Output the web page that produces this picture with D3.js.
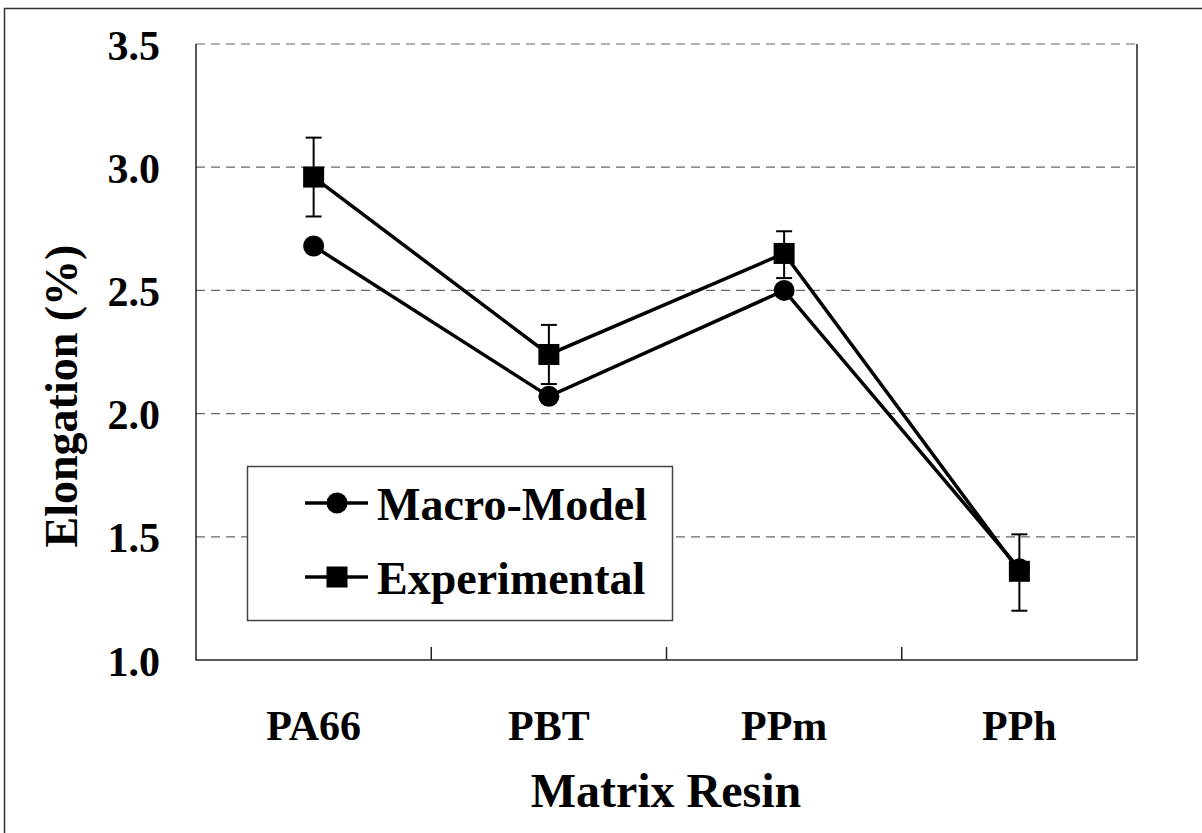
<!DOCTYPE html>
<html>
<head>
<meta charset="utf-8">
<script src="https://cdn.jsdelivr.net/npm/d3@7"></script>
<style>
  html, body { margin: 0; padding: 0; background: #fff; }
  svg { display: block; }
  text { font-family: "Liberation Serif", "Times New Roman", serif; font-weight: bold; fill: #000; }
</style>
</head>
<body>
<svg id="chart" width="1202" height="833"></svg>
<script>
// Matrix resins on the x axis
const categories = ["PA66", "PBT", "PPm", "PPh"];
// Elongation (%) predicted by the macro-model
const macroModel = [2.68, 2.07, 2.50, 1.37];
// Measured elongation (%) with error range
const experimental = [2.96, 2.24, 2.65, 1.36];
const expLow  = [2.80, 2.12, 2.55, 1.20];
const expHigh = [3.12, 2.36, 2.74, 1.51];
// Y axis ticks
const yTicks = [1.0, 1.5, 2.0, 2.5, 3.0, 3.5];
const seriesNames = ["Macro-Model", "Experimental"];

const svg = d3.select("#chart");
const plot = { left: 196, right: 1137, top: 44, bottom: 660 };

// Outer chart frame
svg.append("rect")
  .attr("x", 4.5).attr("y", 8.5)
  .attr("width", 1200).attr("height", 830)
  .attr("fill", "none").attr("stroke", "#333").attr("stroke-width", 1.5);

const x = d3.scaleBand().domain(categories).range([plot.left, plot.right]).padding(0);
const y = d3.scaleLinear().domain([1.0, 3.5]).range([plot.bottom, plot.top]);
const cx = d => x(d) + x.bandwidth() / 2;

// Dashed horizontal gridlines
svg.append("g")
  .selectAll("line")
  .data(yTicks.filter(t => t > 1.0))
  .join("line")
  .attr("x1", plot.left).attr("x2", plot.right)
  .attr("y1", d => y(d)).attr("y2", d => y(d))
  .attr("stroke", "#666").attr("stroke-width", 1.2)
  .attr("stroke-dasharray", "9,6");

// Plot frame: left, bottom, right
svg.append("path")
  .attr("d", `M${plot.left},${plot.top}V${plot.bottom}H${plot.right}V${plot.top}`)
  .attr("fill", "none").attr("stroke", "#222").attr("stroke-width", 1.5);

// Category divider ticks on the x axis (pointing inward)
const xAxis = d3.axisBottom(x).tickSize(0).tickFormat("");
svg.append("g")
  .selectAll("line")
  .data(categories.slice(1))
  .join("line")
  .attr("x1", d => x(d)).attr("x2", d => x(d))
  .attr("y1", plot.bottom).attr("y2", plot.bottom - 13)
  .attr("stroke", "#222").attr("stroke-width", 1.5);

// Y tick labels
const yAxis = d3.axisLeft(y).tickValues(yTicks).tickSize(0).tickPadding(36)
  .tickFormat(d3.format(".1f"));
const gy = svg.append("g").attr("transform", `translate(${plot.left},0)`).call(yAxis);
gy.select(".domain").remove();
gy.selectAll("text")
  .attr("font-family", "Liberation Serif, Times New Roman, serif")
  .attr("font-weight", "bold").attr("font-size", 42).attr("fill", "#000")
  .attr("dy", "0.36em");

// Category labels
const gx = svg.append("g").attr("transform", `translate(0,${plot.bottom})`).call(xAxis);
gx.select(".domain").remove();
gx.selectAll("text")
  .attr("font-family", "Liberation Serif, Times New Roman, serif")
  .attr("font-weight", "bold").attr("font-size", 42).attr("fill", "#000")
  .attr("y", 80).attr("dy", 0)
  .text(d => d);

// Axis titles
svg.append("text")
  .attr("x", 666).attr("y", 807)
  .attr("text-anchor", "middle").attr("font-size", 48)
  .text("Matrix Resin");
svg.append("text")
  .attr("transform", "translate(77,396) rotate(-90)")
  .attr("text-anchor", "middle").attr("font-size", 46)
  .text("Elongation (%)");

const line = d3.line().x((d, i) => cx(categories[i])).y(d => y(d));

// Error bars on experimental values
const eb = svg.append("g").attr("stroke", "#000").attr("stroke-width", 2);
categories.forEach((c, i) => {
  eb.append("line").attr("x1", cx(c)).attr("x2", cx(c))
    .attr("y1", y(expLow[i])).attr("y2", y(expHigh[i]));
  [expLow[i], expHigh[i]].forEach(v => {
    eb.append("line").attr("x1", cx(c) - 8).attr("x2", cx(c) + 8)
      .attr("y1", y(v)).attr("y2", y(v));
  });
});

// Series lines
[macroModel, experimental].forEach(vals => {
  svg.append("path").datum(vals)
    .attr("d", line)
    .attr("fill", "none").attr("stroke", "#000").attr("stroke-width", 3.5);
});

// Markers
svg.append("g").selectAll("circle")
  .data(macroModel)
  .join("circle")
  .attr("cx", (d, i) => cx(categories[i])).attr("cy", d => y(d))
  .attr("r", 10.5).attr("fill", "#000");
svg.append("g").selectAll("rect")
  .data(experimental)
  .join("rect")
  .attr("x", (d, i) => cx(categories[i]) - 10.5).attr("y", d => y(d) - 10.5)
  .attr("width", 21).attr("height", 21).attr("fill", "#000");

// Legend
const lg = svg.append("g");
lg.append("rect")
  .attr("x", 247.5).attr("y", 466.5).attr("width", 425).attr("height", 154)
  .attr("fill", "#fff").attr("stroke", "#444").attr("stroke-width", 1.5);
const rowsY = [503, 577];
seriesNames.forEach((name, i) => {
  const yy = rowsY[i];
  lg.append("line").attr("x1", 305).attr("x2", 368).attr("y1", yy).attr("y2", yy)
    .attr("stroke", "#000").attr("stroke-width", 3.5);
  if (i === 0) {
    lg.append("circle").attr("cx", 337).attr("cy", yy).attr("r", 10.5).attr("fill", "#000");
  } else {
    lg.append("rect").attr("x", 326.5).attr("y", yy - 10.5).attr("width", 21).attr("height", 21).attr("fill", "#000");
  }
  lg.append("text").attr("x", 377).attr("y", yy + 17)
    .attr("font-size", 46).text(name);
});
</script>
</body>
</html>
